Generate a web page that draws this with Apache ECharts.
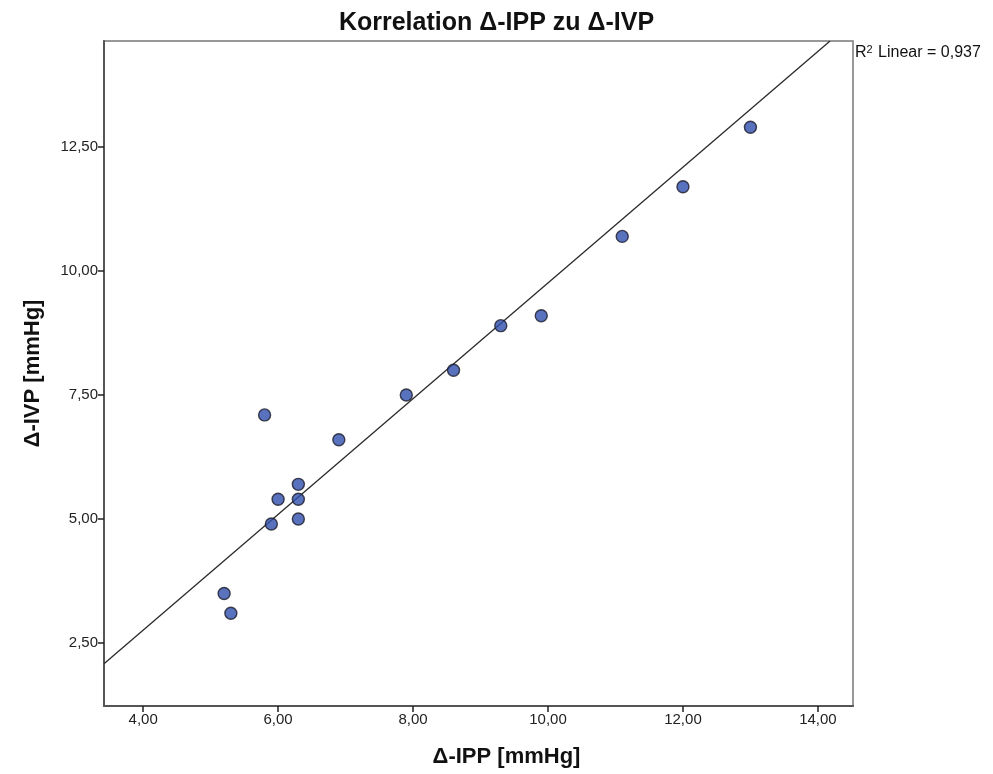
<!DOCTYPE html>
<html>
<head>
<meta charset="utf-8">
<script src="https://cdn.jsdelivr.net/npm/echarts@6/dist/echarts.min.js"></script>
<style>
  html, body { margin: 0; padding: 0; background: #fff; }
  #chart { width: 993px; height: 774px; }
</style>
</head>
<body>
<div id="chart"></div>
<script>
// Δ-IPP (x) und Δ-IVP (y)
const ippValues = [13.0, 12.0, 11.1, 9.9, 9.3, 8.6, 7.9, 6.9, 5.8, 6.3, 6.0, 6.3, 6.3, 5.9, 5.2, 5.3];
const ivpValues = [12.9, 11.7, 10.7, 9.1, 8.9, 8.0, 7.5, 6.6, 7.1, 5.7, 5.4, 5.4, 5.0, 4.9, 3.5, 3.1];

// Regressionsgerade (Endpunkte wie im Bild)
const fitX = [3.42, 14.18];
const fitY = [2.08, 14.64];

const xTicks = [4, 6, 8, 10, 12, 14];
const yTicks = [2.5, 5, 7.5, 10, 12.5];
const rSquared = '0,937';

const fmt = (v) => v.toFixed(2).replace('.', ',');

const points = ippValues.map((x, i) => [x, ivpValues[i]]);
const fitLine = fitX.map((x, i) => [x, fitY[i]]);

const font = 'Arial, "Liberation Sans", sans-serif';
const chart = echarts.init(document.getElementById('chart'), null, { renderer: 'canvas' });

chart.setOption({
    backgroundColor: '#fff',
    animation: false,
    title: {
        text: 'Korrelation Δ-IPP zu Δ-IVP',
        left: 'center',
        top: 6,
        textStyle: {
            fontFamily: font,
            fontSize: 25,
            fontWeight: 'bold',
            color: '#111'
        }
    },
    grid: {
        left: 104,
        right: 140,
        top: 41,
        bottom: 68,
        show: true,
        borderColor: '#777',
        borderWidth: 1.5
    },
    xAxis: {
        type: 'value',
        min: 3.42,
        max: 14.52,
        name: 'Δ-IPP [mmHg]',
        nameLocation: 'middle',
        nameGap: 40,
        nameTextStyle: {
            fontFamily: font,
            fontSize: 22,
            fontWeight: 'bold',
            color: '#111',
            // im Original etwas nach rechts versetzt
            padding: [0, 0, 0, 56]
        },
        axisLine: { show: true, lineStyle: { color: '#555', width: 2 } },
        axisTick: { show: true, length: 6, customValues: xTicks, lineStyle: { color: '#222', width: 1.5 } },
        axisLabel: {
            customValues: xTicks,
            formatter: fmt,
            fontFamily: font,
            fontSize: 15,
            color: '#222',
            margin: 6
        },
        splitLine: { show: false }
    },
    yAxis: {
        type: 'value',
        min: 1.23,
        max: 14.64,
        name: 'Δ-IVP [mmHg]',
        nameLocation: 'middle',
        nameRotate: 90,
        nameGap: 60,
        nameTextStyle: {
            fontFamily: font,
            fontSize: 22,
            fontWeight: 'bold',
            color: '#111'
        },
        axisLine: { show: true, lineStyle: { color: '#555', width: 2 } },
        axisTick: { show: true, length: 6, customValues: yTicks, lineStyle: { color: '#222', width: 1.5 } },
        axisLabel: {
            customValues: yTicks,
            formatter: fmt,
            fontFamily: font,
            fontSize: 15,
            color: '#222',
            margin: 6
        },
        splitLine: { show: false }
    },
    graphic: [
        {
            type: 'text',
            left: 855,
            top: 44,
            style: {
                text: 'R{sup|2} Linear = ' + rSquared,
                fontFamily: font,
                fontSize: 16,
                fill: '#111',
                rich: {
                    sup: { fontSize: 11, verticalAlign: 'top', padding: [0, 1, 7, 0], fill: '#111' }
                }
            }
        }
    ],
    series: [
        {
            type: 'line',
            data: fitLine,
            symbol: 'none',
            silent: true,
            lineStyle: { color: '#2a2a2a', width: 1.3 },
            z: 2
        },
        {
            type: 'scatter',
            data: points,
            symbolSize: 12,
            itemStyle: {
                color: '#2f4fae',
                borderColor: '#1a1a28',
                borderWidth: 1.4
            },
            z: 3
        }
    ]
});
</script>
</body>
</html>
